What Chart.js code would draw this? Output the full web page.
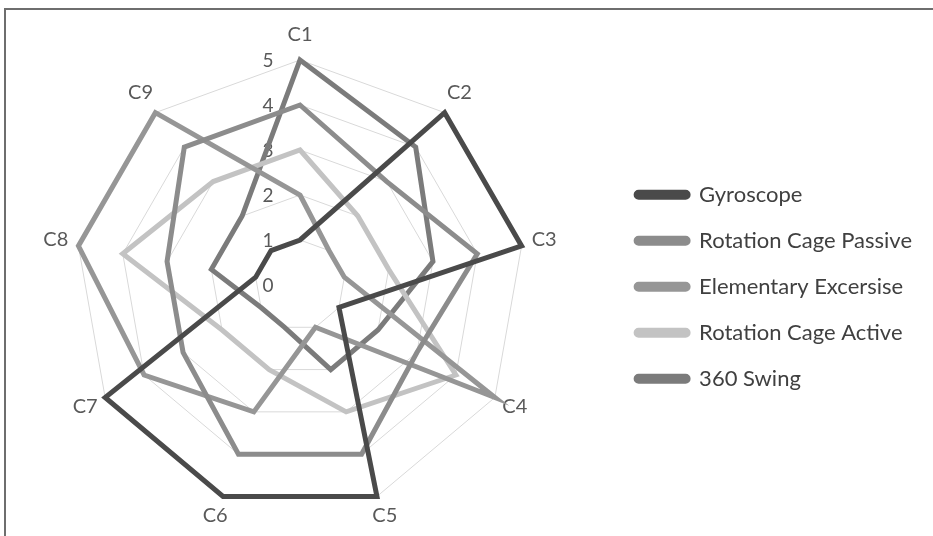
<!DOCTYPE html>
<html>
<head>
<meta charset="utf-8">
<script src="https://cdn.jsdelivr.net/npm/chart.js@4.4.1/dist/chart.umd.min.js"></script>
<style>
    html, body { margin: 0; padding: 0; background: #fff; }
    #wrap { position: relative; width: 933px; height: 536px; }
    #frame { position: absolute; left: 4px; top: 8px; right: -10px; bottom: -10px;
             border-top: 2px solid #6e6e6e; border-left: 2px solid #6e6e6e; }
    canvas { position: absolute; left: 0; top: 0; }
</style>
</head>
<body>
<div id="wrap">
    <div id="frame"></div>
    <canvas id="radarChart" width="933" height="536"></canvas>
</div>
<script>
const categories = ['C1', 'C2', 'C3', 'C4', 'C5', 'C6', 'C7', 'C8', 'C9'];
const seriesNames = ['Gyroscope', 'Rotation Cage Passive', 'Elementary Excersise', 'Rotation Cage Active', '360 Swing'];

const gyroscope = [1, 5, 5, 1, 5, 5, 5, 1, 1];
const rotationCagePassive = [4, 3, 4, 3, 4, 4, 3, 3, 4];
const elementaryExcersise = [2, 1, 1, 5, 1, 3, 4, 5, 5];
const rotationCageActive = [3, 2, 2, 4, 3, 2, 2, 4, 3];
const swing360 = [5, 4, 3, 2, 2, 1, 1, 2, 2];

const tickLabels = ['0', '1', '2', '3', '4', '5'];

const colors = ['#4a4a4a', '#8c8c8c', '#969696', '#c3c3c3', '#7b7b7b'];
const values = [gyroscope, rotationCagePassive, elementaryExcersise, rotationCageActive, swing360];

const fontFamily = 'Lato, "Open Sans", sans-serif';

// tick labels left of the vertical axis and category labels centred
// just outside each spoke, the way the original places them
const labelPlugin = {
    id: 'radarLabels',
    beforeDatasetsDraw(chart) {
        const scale = chart.scales.r;
        const ctx = chart.ctx;
        ctx.save();
        ctx.fillStyle = '#595959';
        ctx.textAlign = 'center';
        ctx.textBaseline = 'middle';

        ctx.font = '19px ' + fontFamily;
        tickLabels.forEach((t, i) => {
            const d = scale.getDistanceFromCenterForValue(i);
            ctx.fillText(t, scale.xCenter - 32, scale.yCenter - d + 1);
        });

        ctx.font = '20px ' + fontFamily;
        categories.forEach((c, i) => {
            const p = scale.getPointPosition(i, scale.drawingArea + 23);
            ctx.fillText(c, p.x, p.y - 2);
        });
        ctx.restore();
    }
};

const ctx = document.getElementById('radarChart').getContext('2d');
const chart = new Chart(ctx, {
    type: 'radar',
    data: {
        labels: categories,
        datasets: seriesNames.map((name, i) => ({
            label: name,
            data: values[i],
            borderColor: colors[i],
            backgroundColor: colors[i],
            borderWidth: 5,
            pointRadius: 0,
            fill: false,
            tension: 0
        }))
    },
    options: {
        responsive: false,
        animation: false,
        layout: {
            padding: { left: 0, top: 60, right: 11, bottom: 26 }
        },
        plugins: {
            legend: {
                position: 'right',
                title: {
                    display: true,
                    text: ' ',
                    padding: 0,
                    font: { size: 3 }
                },
                labels: {
                    color: '#404040',
                    font: { family: fontFamily, size: 22 },
                    boxWidth: 52,
                    boxHeight: 5,
                    useBorderRadius: true,
                    borderRadius: 2.5,
                    padding: 24
                }
            },
            tooltip: { enabled: false }
        },
        scales: {
            r: {
                min: 0,
                max: 5,
                ticks: {
                    stepSize: 1,
                    display: false
                },
                grid: {
                    color: '#d9d9d9',
                    lineWidth: 1
                },
                angleLines: {
                    display: false
                },
                pointLabels: {
                    display: false
                },
                // the web sits a little left of the plot area's middle
                afterFit(scale) {
                    const radius = scale.drawingArea;
                    scale.setCenterPoint(0, 2 * (scale.xCenter - 300), 0, 0);
                    scale.drawingArea = radius;
                }
            }
        }
    },
    plugins: [labelPlugin]
});
</script>
</body>
</html>
